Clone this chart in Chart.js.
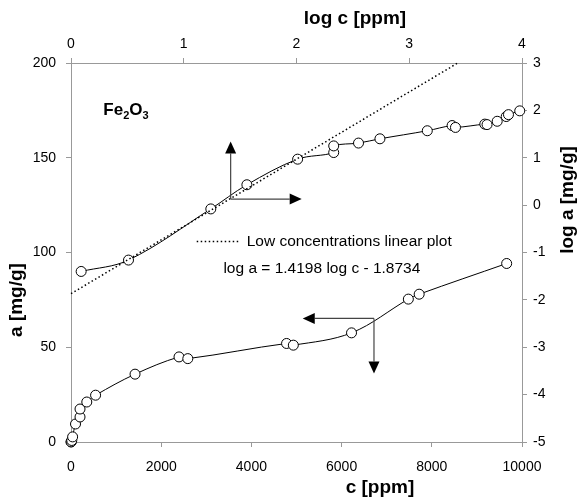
<!DOCTYPE html>
<html>
<head>
<meta charset="utf-8">
<script src="https://cdn.jsdelivr.net/npm/chart.js@4.4.1/dist/chart.umd.min.js"></script>
<style>
  body { margin: 0; background: #fff; }
  canvas { display: block; }
</style>
</head>
<body>
<canvas id="chart" width="577" height="502"></canvas>
<script>
// isotherm, linear scale: c [ppm] (bottom) vs a [mg/g] (left)
const cPpm = [1, 3, 17, 36, 100, 200, 200, 350, 545, 1420, 2395, 2590, 4780, 4930, 6220, 7480, 7720, 9660];
const aMgG = [0.04, 0.07, 0.8, 2.7, 9.5, 13.2, 17.4, 21.1, 24.7, 35.8, 44.9, 44.0, 52.0, 51.1, 57.6, 75.4, 78.0, 94.2];

// same isotherm, log scale: log c (top) vs log a (right)
const logC = [0.09, 0.51, 1.24, 1.56, 2.01, 2.33, 2.33, 2.55, 2.74, 3.16, 3.38, 3.41, 3.67, 3.69, 3.78, 3.86, 3.88, 3.98];
const logA = [-1.40, -1.16, -0.08, 0.43, 0.97, 1.11, 1.25, 1.31, 1.40, 1.57, 1.68, 1.64, 1.71, 1.70, 1.77, 1.87, 1.91, 1.99];

// low concentrations linear plot: log a = 1.4198 log c - 1.8734
const fitLogC = [0, 3.43];
const fitLogA = [-1.87, 3.0];

// tick labels
const cTicks = [0, 2000, 4000, 6000, 8000, 10000];
const logCTicks = [0, 1, 2, 3, 4];
const aTicks = [0, 50, 100, 150, 200];
const logATicks = [-5, -4, -3, -2, -1, 0, 1, 2, 3];

const FONT = "'Liberation Sans', Arial, sans-serif";
Chart.defaults.font.family = FONT;
Chart.defaults.color = '#000';

function pairs(xs, ys) {
  return xs.map((v, i) => ({ x: v, y: ys[i] }));
}

function axis(position, list, padding, size) {
  return {
    type: 'linear',
    position: position,
    min: list[0],
    max: list[list.length - 1],
    afterBuildTicks: s => { s.ticks = list.map(v => ({ value: v })); },
    afterFit: s => {
      if (position === 'left' || position === 'right') s.width = size;
      else s.height = size;
    },
    ticks: {
      autoSkip: false,
      maxRotation: 0,
      padding: padding,
      font: { size: 14 },
      color: '#000',
      callback: v => String(v)
    },
    grid: { drawOnChartArea: false, tickLength: 5, color: '#999' },
    border: { display: true, color: '#999', dash: [1, 1] }
  };
}

const seriesStyle = {
  showLine: true,
  borderColor: '#000',
  borderWidth: 1,
  tension: 0.35,
  pointRadius: 5,
  pointBackgroundColor: '#fff',
  pointBorderColor: '#000',
  pointBorderWidth: 1,
  clip: false
};

function arrow(ctx, x0, y0, x1, y1) {
  const ang = Math.atan2(y1 - y0, x1 - x0);
  const len = 12, half = 5.5;
  const bx = x1 - len * Math.cos(ang), by = y1 - len * Math.sin(ang);
  ctx.strokeStyle = '#444';
  ctx.lineWidth = 1.2;
  ctx.beginPath(); ctx.moveTo(x0, y0); ctx.lineTo(bx, by); ctx.stroke();
  ctx.fillStyle = '#000';
  ctx.beginPath();
  ctx.moveTo(x1, y1);
  ctx.lineTo(bx - half * Math.sin(ang), by + half * Math.cos(ang));
  ctx.lineTo(bx + half * Math.sin(ang), by - half * Math.cos(ang));
  ctx.closePath();
  ctx.fill();
}

const overlay = {
  id: 'overlay',
  afterDatasetsDraw(chart) {
    const { ctx } = chart;
    const { x, y, x2, y2 } = chart.scales;
    ctx.save();

    // arrows pointing to the axes each curve belongs to
    const ux = x2.getPixelForValue(1.416), uy = y2.getPixelForValue(0.128);
    arrow(ctx, ux, uy, ux, y2.getPixelForValue(1.344));
    arrow(ctx, ux, uy, x2.getPixelForValue(2.046), uy);
    const lx = x.getPixelForValue(6718), ly = y.getPixelForValue(65.2);
    arrow(ctx, lx, ly, x.getPixelForValue(5138), ly);
    arrow(ctx, lx, ly, lx, y.getPixelForValue(36.1));

    // legend entry for the dotted line
    const ly2 = y2.getPixelForValue(-0.768);
    ctx.strokeStyle = '#000';
    ctx.lineWidth = 1.5;
    ctx.setLineDash([1.5, 2.5]);
    ctx.beginPath();
    ctx.moveTo(x2.getPixelForValue(1.115), ly2);
    ctx.lineTo(x2.getPixelForValue(1.499), ly2);
    ctx.stroke();
    ctx.setLineDash([]);

    ctx.fillStyle = '#000';
    ctx.font = '15.5px ' + FONT;
    ctx.textBaseline = 'middle';
    ctx.textAlign = 'left';
    ctx.fillText('Low concentrations linear plot', x2.getPixelForValue(1.558), ly2);
    ctx.textAlign = 'center';
    ctx.fillText('log a = 1.4198 log c - 1.8734', x2.getPixelForValue(2.225), y2.getPixelForValue(-1.351));

    // Fe2O3 label with subscripts
    let px = x2.getPixelForValue(0.287);
    const base = y2.getPixelForValue(1.90);
    ctx.textAlign = 'left';
    ctx.textBaseline = 'alphabetic';
    const parts = [['Fe', false], ['2', true], ['O', false], ['3', true]];
    parts.forEach(([t, sub]) => {
      ctx.font = 'bold ' + (sub ? 11 : 17) + 'px ' + FONT;
      ctx.fillText(t, px, sub ? base + 4 : base);
      px += ctx.measureText(t).width;
    });

    // axis titles
    ctx.font = 'bold 19px ' + FONT;
    ctx.textAlign = 'center';
    ctx.textBaseline = 'middle';
    ctx.fillText('log c [ppm]', 355, 19);
    ctx.fillText('c [ppm]', 380, 488);
    ctx.save();
    ctx.translate(17, 300);
    ctx.rotate(-Math.PI / 2);
    ctx.fillText('a [mg/g]', 0, 0);
    ctx.restore();
    ctx.save();
    ctx.translate(568, 200);
    ctx.rotate(-Math.PI / 2);
    ctx.fillText('log a [mg/g]', 0, 0);
    ctx.restore();

    ctx.restore();
  }
};

new Chart(document.getElementById('chart').getContext('2d'), {
  type: 'scatter',
  data: {
    datasets: [
      {
        label: 'Low concentrations linear plot',
        data: pairs(fitLogC, fitLogA),
        xAxisID: 'x2',
        yAxisID: 'y2',
        showLine: true,
        borderColor: '#000',
        borderWidth: 1.5,
        borderDash: [1.5, 2.5],
        pointRadius: 0,
        clip: false
      },
      Object.assign({ label: 'log a', data: pairs(logC, logA), xAxisID: 'x2', yAxisID: 'y2' }, seriesStyle),
      Object.assign({ label: 'a', data: pairs(cPpm, aMgG), xAxisID: 'x', yAxisID: 'y' }, seriesStyle)
    ]
  },
  options: {
    responsive: false,
    animation: false,
    layout: { padding: 0 },
    plugins: { legend: { display: false }, tooltip: { enabled: false } },
    scales: {
      x: axis('bottom', cTicks, 12, 60),
      x2: axis('top', logCTicks, 5, 63),
      y: axis('left', aTicks, 10, 71),
      y2: axis('right', logATicks, 6, 55)
    }
  },
  plugins: [overlay]
});
</script>
</body>
</html>
